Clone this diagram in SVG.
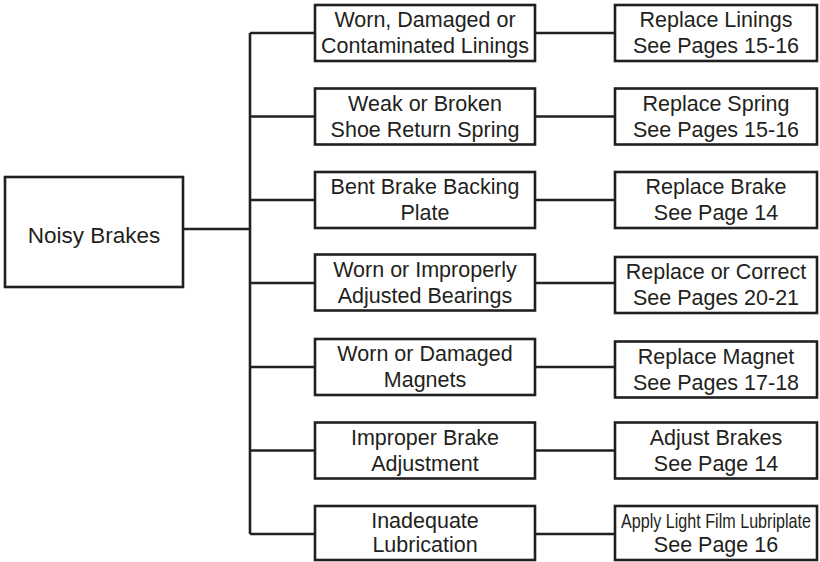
<svg xmlns="http://www.w3.org/2000/svg" width="820" height="562" viewBox="0 0 820 562">
<style>
.box{fill:#fff;stroke:#231f20;stroke-width:2.6}
.ln{fill:none;stroke:#231f20;stroke-width:2.6}
text{font-family:"Liberation Sans",Arial,sans-serif;font-size:21.5px;fill:#231f20;text-anchor:middle}
</style>
<rect width="820" height="562" fill="#fff"/>
<g id="connectors">
<path class="ln" d="M183,229 H250 M250,33 V534 M250,33 H315 M250,116.5 H315 M250,200 H315 M250,283 H315 M250,367 H315 M250,450.5 H315 M250,534 H315"/>
<path class="ln" d="M535,33 H615 M535,116.5 H615 M535,200 H615 M535,283 H615 M535,367 H615 M535,450.5 H615 M535,534 H615"/>
</g>
<g id="noisy"><rect class="box" x="5" y="177" width="178" height="110"/><text x="94" y="243" style="font-size:22.5px">Noisy Brakes</text></g>
<g id="c1"><rect class="box" x="315" y="5" width="220" height="56"/><text x="425" y="27">Worn, Damaged or</text><text x="425" y="53">Contaminated Linings</text></g>
<g id="r1"><rect class="box" x="615" y="5" width="202" height="56"/><text x="716" y="27">Replace Linings</text><text x="716" y="53">See Pages 15-16</text></g>
<g id="c2"><rect class="box" x="315" y="88.5" width="220" height="56"/><text x="425" y="110.5">Weak or Broken</text><text x="425" y="136.5">Shoe Return Spring</text></g>
<g id="r2"><rect class="box" x="615" y="88.5" width="202" height="56"/><text x="716" y="110.5">Replace Spring</text><text x="716" y="136.5">See Pages 15-16</text></g>
<g id="c3"><rect class="box" x="315" y="172" width="220" height="56"/><text x="425" y="194">Bent Brake Backing</text><text x="425" y="220">Plate</text></g>
<g id="r3"><rect class="box" x="615" y="172" width="202" height="56"/><text x="716" y="194">Replace Brake</text><text x="716" y="220">See Page 14</text></g>
<g id="c4"><rect class="box" x="315" y="254.5" width="220" height="56"/><text x="425" y="276.5">Worn or Improperly</text><text x="425" y="302.5">Adjusted Bearings</text></g>
<g id="r4"><rect class="box" x="615" y="257" width="202" height="56"/><text x="716" y="279">Replace or Correct</text><text x="716" y="305">See Pages 20-21</text></g>
<g id="c5"><rect class="box" x="315" y="339" width="220" height="56"/><text x="425" y="361">Worn or Damaged</text><text x="425" y="387">Magnets</text></g>
<g id="r5"><rect class="box" x="615" y="341.5" width="202" height="56"/><text x="716" y="363.5">Replace Magnet</text><text x="716" y="389.5">See Pages 17-18</text></g>
<g id="c6"><rect class="box" x="315" y="422.5" width="220" height="56"/><text x="425" y="444.5">Improper Brake</text><text x="425" y="470.5">Adjustment</text></g>
<g id="r6"><rect class="box" x="615" y="422.5" width="202" height="56"/><text x="716" y="444.5">Adjust Brakes</text><text x="716" y="470.5">See Page 14</text></g>
<g id="c7"><rect class="box" x="315" y="506" width="220" height="54"/><text x="425" y="527.5">Inadequate</text><text x="425" y="552">Lubrication</text></g>
<g id="r7"><rect class="box" x="615" y="506" width="202" height="54"/><text x="716" y="527.5" style="font-size:20.5px" textLength="190" lengthAdjust="spacingAndGlyphs">Apply Light Film Lubriplate</text><text x="716" y="552">See Page 16</text></g>
</svg>
